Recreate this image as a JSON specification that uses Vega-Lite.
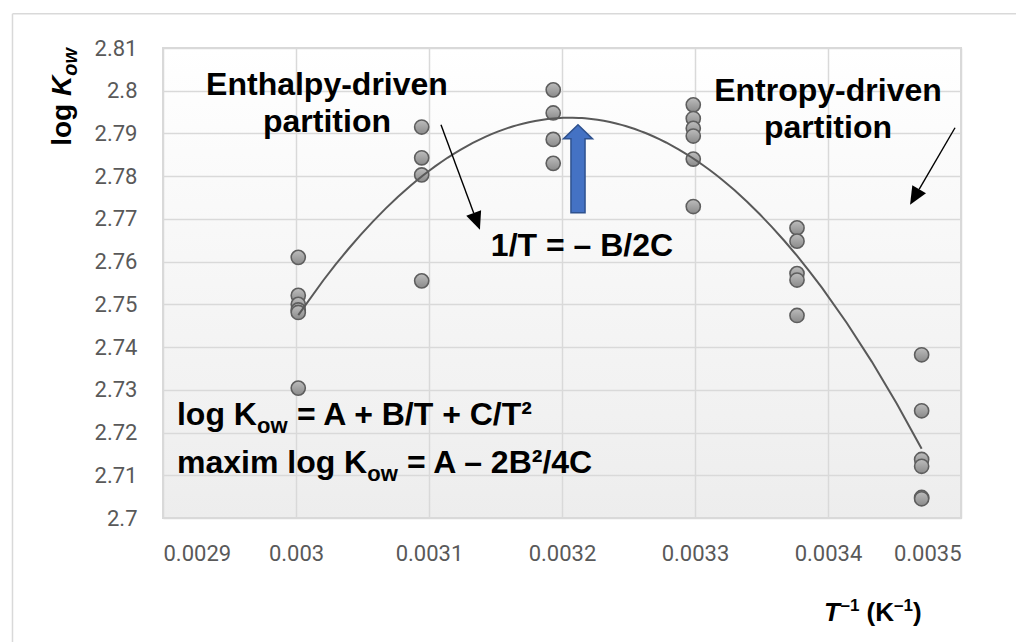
{
  "$schema": "https://vega.github.io/schema/vega-lite/v6.json",
  "width": 798,
  "height": 470,
  "autosize": {"type": "none"},
  "padding": {"left": 163, "top": 48, "right": 55, "bottom": 124},
  "background": "white",
  "config": {
    "view": {
      "stroke": "#d9d9d9",
      "strokeWidth": 2,
      "fill": {"gradient": "linear", "x1": 0, "y1": 0, "x2": 0, "y2": 1, "stops": [{"offset": 0, "color": "#ffffff"}, {"offset": 1, "color": "#ededed"}]}
    },
    "axis": {
      "domain": false,
      "ticks": false,
      "grid": true,
      "gridColor": "#d9d9d9",
      "gridWidth": 1.5,
      "labelColor": "#595959",
      "labelFont": "Roboto",
      "labelFontSize": 22
    }
  },
  "datasets": {
    "obs": [
      {"invT": 0.0030017, "logK": 2.7610},
      {"invT": 0.0030017, "logK": 2.7521},
      {"invT": 0.0030017, "logK": 2.7500},
      {"invT": 0.0030017, "logK": 2.7487},
      {"invT": 0.0030017, "logK": 2.7481},
      {"invT": 0.0030017, "logK": 2.7304},
      {"invT": 0.0030945, "logK": 2.7915},
      {"invT": 0.0030945, "logK": 2.7843},
      {"invT": 0.0030945, "logK": 2.7803},
      {"invT": 0.0030945, "logK": 2.7555},
      {"invT": 0.0031934, "logK": 2.8002},
      {"invT": 0.0031934, "logK": 2.7948},
      {"invT": 0.0031934, "logK": 2.7886},
      {"invT": 0.0031934, "logK": 2.7830},
      {"invT": 0.0032987, "logK": 2.7967},
      {"invT": 0.0032987, "logK": 2.7935},
      {"invT": 0.0032987, "logK": 2.7912},
      {"invT": 0.0032987, "logK": 2.7894},
      {"invT": 0.0032987, "logK": 2.7840},
      {"invT": 0.0032987, "logK": 2.7729},
      {"invT": 0.0033767, "logK": 2.7679},
      {"invT": 0.0033767, "logK": 2.7648},
      {"invT": 0.0033767, "logK": 2.7572},
      {"invT": 0.0033767, "logK": 2.7557},
      {"invT": 0.0033767, "logK": 2.7474},
      {"invT": 0.0034704, "logK": 2.7382},
      {"invT": 0.0034704, "logK": 2.7251},
      {"invT": 0.0034704, "logK": 2.7137},
      {"invT": 0.0034704, "logK": 2.7121},
      {"invT": 0.0034704, "logK": 2.7048},
      {"invT": 0.0034704, "logK": 2.7045}
    ],
    "one": [{}]
  },
  "layer": [
    {
      "data": {"name": "one"},
      "mark": {"type": "rule", "color": "#d9d9d9", "strokeWidth": 1.5},
      "encoding": {
        "x": {"datum": 0.00278684, "type": "quantitative"},
        "y": {"datum": 2.67096, "type": "quantitative"},
        "y2": {"datum": 2.81803}
      }
    },
    {
      "data": {"name": "one"},
      "mark": {"type": "rule", "color": "#d9d9d9", "strokeWidth": 1.5},
      "encoding": {
        "x": {"datum": 0.00278684, "type": "quantitative"},
        "x2": {"datum": 0.00354135},
        "y": {"datum": 2.81803, "type": "quantitative"}
      }
    },
    {
      "data": {"name": "obs"},
      "mark": {
        "type": "point",
        "shape": "circle",
        "filled": true,
        "opacity": 1,
        "size": 200,
        "fill": {"gradient": "linear", "x1": 0, "y1": 0, "x2": 0, "y2": 1, "stops": [{"offset": 0, "color": "#bdbdbd"}, {"offset": 1, "color": "#8a8a8a"}]},
        "stroke": "#5e5e5e",
        "strokeWidth": 1.6
      },
      "encoding": {
        "x": {
          "field": "invT",
          "type": "quantitative",
          "scale": {"domain": [0.0029, 0.0035], "nice": false, "zero": false},
          "axis": {
            "values": [0.0029, 0.003, 0.0031, 0.0032, 0.0033, 0.0034, 0.0035],
            "format": "~g",
            "labelPadding": 25,
            "title": null
          }
        },
        "y": {
          "field": "logK",
          "type": "quantitative",
          "scale": {"domain": [2.7, 2.81], "nice": false, "zero": false},
          "axis": {
            "values": [2.7, 2.71, 2.72, 2.73, 2.74, 2.75, 2.76, 2.77, 2.78, 2.79, 2.8, 2.81],
            "format": "~g",
            "labelPadding": 26,
            "title": null
          }
        }
      }
    },
    {
      "data": {"name": "obs"},
      "transform": [{"regression": "logK", "on": "invT", "method": "poly", "order": 2}],
      "mark": {"type": "line", "color": "#595959", "strokeWidth": 2},
      "encoding": {
        "x": {"field": "invT", "type": "quantitative"},
        "y": {"field": "logK", "type": "quantitative"}
      }
    },
    {
      "data": {"name": "one"},
      "mark": {"type": "rule", "color": "#000000", "strokeWidth": 1.4},
      "encoding": {
        "x": {"datum": 0.0031090, "type": "quantitative"},
        "y": {"datum": 2.79204, "type": "quantitative"},
        "x2": {"datum": 0.0031336},
        "y2": {"datum": 2.77141}
      }
    },
    {
      "data": {"name": "one"},
      "mark": {"type": "point", "shape": "M0,0 L0.44,1 L-0.44,1 Z", "filled": true, "opacity": 1, "fill": "#000000", "strokeWidth": 0, "size": 1296, "angle": 159.6},
      "encoding": {
        "x": {"datum": 0.0031383, "type": "quantitative"},
        "y": {"datum": 2.76745, "type": "quantitative"}
      }
    },
    {
      "data": {"name": "one"},
      "mark": {"type": "rule", "color": "#000000", "strokeWidth": 1.4},
      "encoding": {
        "x": {"datum": 0.0034955, "type": "quantitative"},
        "y": {"datum": 2.79133, "type": "quantitative"},
        "x2": {"datum": 0.0034685},
        "y2": {"datum": 2.77693}
      }
    },
    {
      "data": {"name": "one"},
      "mark": {"type": "point", "shape": "M0,0 L0.44,1 L-0.44,1 Z", "filled": true, "opacity": 1, "fill": "#000000", "strokeWidth": 0, "size": 1296, "angle": 210.3},
      "encoding": {
        "x": {"datum": 0.0034617, "type": "quantitative"},
        "y": {"datum": 2.77330, "type": "quantitative"}
      }
    },
    {
      "data": {"name": "one"},
      "mark": {"type": "point", "shape": "M0,-1 L0.33,-0.68 L0.16,-0.68 L0.16,1 L-0.16,1 L-0.16,-0.68 L-0.33,-0.68 Z", "filled": true, "opacity": 1, "fill": "#4472C4", "stroke": "#2F528F", "strokeWidth": 1.5, "size": 7744},
      "encoding": {
        "x": {"datum": 0.00321203, "type": "quantitative"},
        "y": {"datum": 2.78173, "type": "quantitative"}
      }
    },
    {
      "data": {"name": "one"},
      "mark": {"type": "text", "text": "Enthalpy-driven", "font": "Liberation Sans", "fontWeight": "bold", "fontSize": 32, "color": "#000000", "align": "center", "baseline": "alphabetic"},
      "encoding": {"x": {"datum": 0.0030233, "type": "quantitative"}, "y": {"datum": 2.79906, "type": "quantitative"}}
    },
    {
      "data": {"name": "one"},
      "mark": {"type": "text", "text": "partition", "font": "Liberation Sans", "fontWeight": "bold", "fontSize": 32, "color": "#000000", "align": "center", "baseline": "alphabetic"},
      "encoding": {"x": {"datum": 0.0030233, "type": "quantitative"}, "y": {"datum": 2.79040, "type": "quantitative"}}
    },
    {
      "data": {"name": "one"},
      "mark": {"type": "text", "text": "Entropy-driven", "font": "Liberation Sans", "fontWeight": "bold", "fontSize": 32, "color": "#000000", "align": "center", "baseline": "alphabetic"},
      "encoding": {"x": {"datum": 0.0034, "type": "quantitative"}, "y": {"datum": 2.79766, "type": "quantitative"}}
    },
    {
      "data": {"name": "one"},
      "mark": {"type": "text", "text": "partition", "font": "Liberation Sans", "fontWeight": "bold", "fontSize": 32, "color": "#000000", "align": "center", "baseline": "alphabetic"},
      "encoding": {"x": {"datum": 0.0034, "type": "quantitative"}, "y": {"datum": 2.78899, "type": "quantitative"}}
    },
    {
      "data": {"name": "one"},
      "mark": {"type": "text", "text": "1/T = – B/2C", "font": "Liberation Sans", "fontWeight": "bold", "fontSize": 32, "color": "#000000", "align": "center", "baseline": "alphabetic"},
      "encoding": {"x": {"datum": 0.00321504, "type": "quantitative"}, "y": {"datum": 2.76136, "type": "quantitative"}}
    },
    {
      "data": {"name": "one"},
      "mark": {"type": "text", "text": "log K", "font": "Liberation Sans", "fontWeight": "bold", "fontSize": 32, "color": "#000000", "align": "left", "baseline": "alphabetic"},
      "encoding": {"x": {"datum": 0.0029105, "type": "quantitative"}, "y": {"datum": 2.72178, "type": "quantitative"}}
    },
    {
      "data": {"name": "one"},
      "mark": {"type": "text", "text": "ow", "font": "Liberation Sans", "fontWeight": "bold", "fontSize": 22, "color": "#000000", "align": "left", "baseline": "alphabetic", "dx": 80, "dy": 8},
      "encoding": {"x": {"datum": 0.0029105, "type": "quantitative"}, "y": {"datum": 2.72178, "type": "quantitative"}}
    },
    {
      "data": {"name": "one"},
      "mark": {"type": "text", "text": "= A + B/T + C/T²", "font": "Liberation Sans", "fontWeight": "bold", "fontSize": 32, "color": "#000000", "align": "left", "baseline": "alphabetic", "dx": 120},
      "encoding": {"x": {"datum": 0.0029105, "type": "quantitative"}, "y": {"datum": 2.72178, "type": "quantitative"}}
    },
    {
      "data": {"name": "one"},
      "mark": {"type": "text", "text": "maxim log K", "font": "Liberation Sans", "fontWeight": "bold", "fontSize": 32, "color": "#000000", "align": "left", "baseline": "alphabetic"},
      "encoding": {"x": {"datum": 0.0029105, "type": "quantitative"}, "y": {"datum": 2.71054, "type": "quantitative"}}
    },
    {
      "data": {"name": "one"},
      "mark": {"type": "text", "text": "ow", "font": "Liberation Sans", "fontWeight": "bold", "fontSize": 22, "color": "#000000", "align": "left", "baseline": "alphabetic", "dx": 190.3, "dy": 8},
      "encoding": {"x": {"datum": 0.0029105, "type": "quantitative"}, "y": {"datum": 2.71054, "type": "quantitative"}}
    },
    {
      "data": {"name": "one"},
      "mark": {"type": "text", "text": "= A – 2B²/4C", "font": "Liberation Sans", "fontWeight": "bold", "fontSize": 32, "color": "#000000", "align": "left", "baseline": "alphabetic", "dx": 230},
      "encoding": {"x": {"datum": 0.0029105, "type": "quantitative"}, "y": {"datum": 2.71054, "type": "quantitative"}}
    },
    {
      "data": {"name": "one"},
      "mark": {"type": "text", "text": "log", "font": "Liberation Sans", "fontWeight": "bold", "fontSize": 28, "color": "#000000", "align": "left", "baseline": "alphabetic", "angle": 270},
      "encoding": {"x": {"datum": 0.0028308, "type": "quantitative"}, "y": {"datum": 2.78712, "type": "quantitative"}}
    },
    {
      "data": {"name": "one"},
      "mark": {"type": "text", "text": "K", "font": "Liberation Sans", "fontWeight": "bold", "fontStyle": "italic", "fontSize": 28, "color": "#000000", "align": "left", "baseline": "alphabetic", "angle": 270, "dx": 49.8},
      "encoding": {"x": {"datum": 0.0028308, "type": "quantitative"}, "y": {"datum": 2.78712, "type": "quantitative"}}
    },
    {
      "data": {"name": "one"},
      "mark": {"type": "text", "text": "ow", "font": "Liberation Sans", "fontWeight": "bold", "fontStyle": "italic", "fontSize": 20, "color": "#000000", "align": "left", "baseline": "alphabetic", "angle": 270, "dx": 70, "dy": 6},
      "encoding": {"x": {"datum": 0.0028308, "type": "quantitative"}, "y": {"datum": 2.78712, "type": "quantitative"}}
    },
    {
      "data": {"name": "one"},
      "mark": {"type": "text", "text": "T", "font": "Liberation Sans", "fontWeight": "bold", "fontStyle": "italic", "fontSize": 26, "color": "#000000", "align": "left", "baseline": "alphabetic"},
      "encoding": {"x": {"datum": 0.003397, "type": "quantitative"}, "y": {"datum": 2.67588, "type": "quantitative"}}
    },
    {
      "data": {"name": "one"},
      "mark": {"type": "text", "text": "–1", "font": "Liberation Sans", "fontWeight": "bold", "fontSize": 17, "color": "#000000", "align": "left", "baseline": "alphabetic", "dx": 16.5, "dy": -10},
      "encoding": {"x": {"datum": 0.003397, "type": "quantitative"}, "y": {"datum": 2.67588, "type": "quantitative"}}
    },
    {
      "data": {"name": "one"},
      "mark": {"type": "text", "text": "(K", "font": "Liberation Sans", "fontWeight": "bold", "fontSize": 26, "color": "#000000", "align": "left", "baseline": "alphabetic", "dx": 42.6},
      "encoding": {"x": {"datum": 0.003397, "type": "quantitative"}, "y": {"datum": 2.67588, "type": "quantitative"}}
    },
    {
      "data": {"name": "one"},
      "mark": {"type": "text", "text": "–1", "font": "Liberation Sans", "fontWeight": "bold", "fontSize": 17, "color": "#000000", "align": "left", "baseline": "alphabetic", "dx": 70, "dy": -10},
      "encoding": {"x": {"datum": 0.003397, "type": "quantitative"}, "y": {"datum": 2.67588, "type": "quantitative"}}
    },
    {
      "data": {"name": "one"},
      "mark": {"type": "text", "text": ")", "font": "Liberation Sans", "fontWeight": "bold", "fontSize": 26, "color": "#000000", "align": "left", "baseline": "alphabetic", "dx": 89},
      "encoding": {"x": {"datum": 0.003397, "type": "quantitative"}, "y": {"datum": 2.67588, "type": "quantitative"}}
    }
  ]
}
